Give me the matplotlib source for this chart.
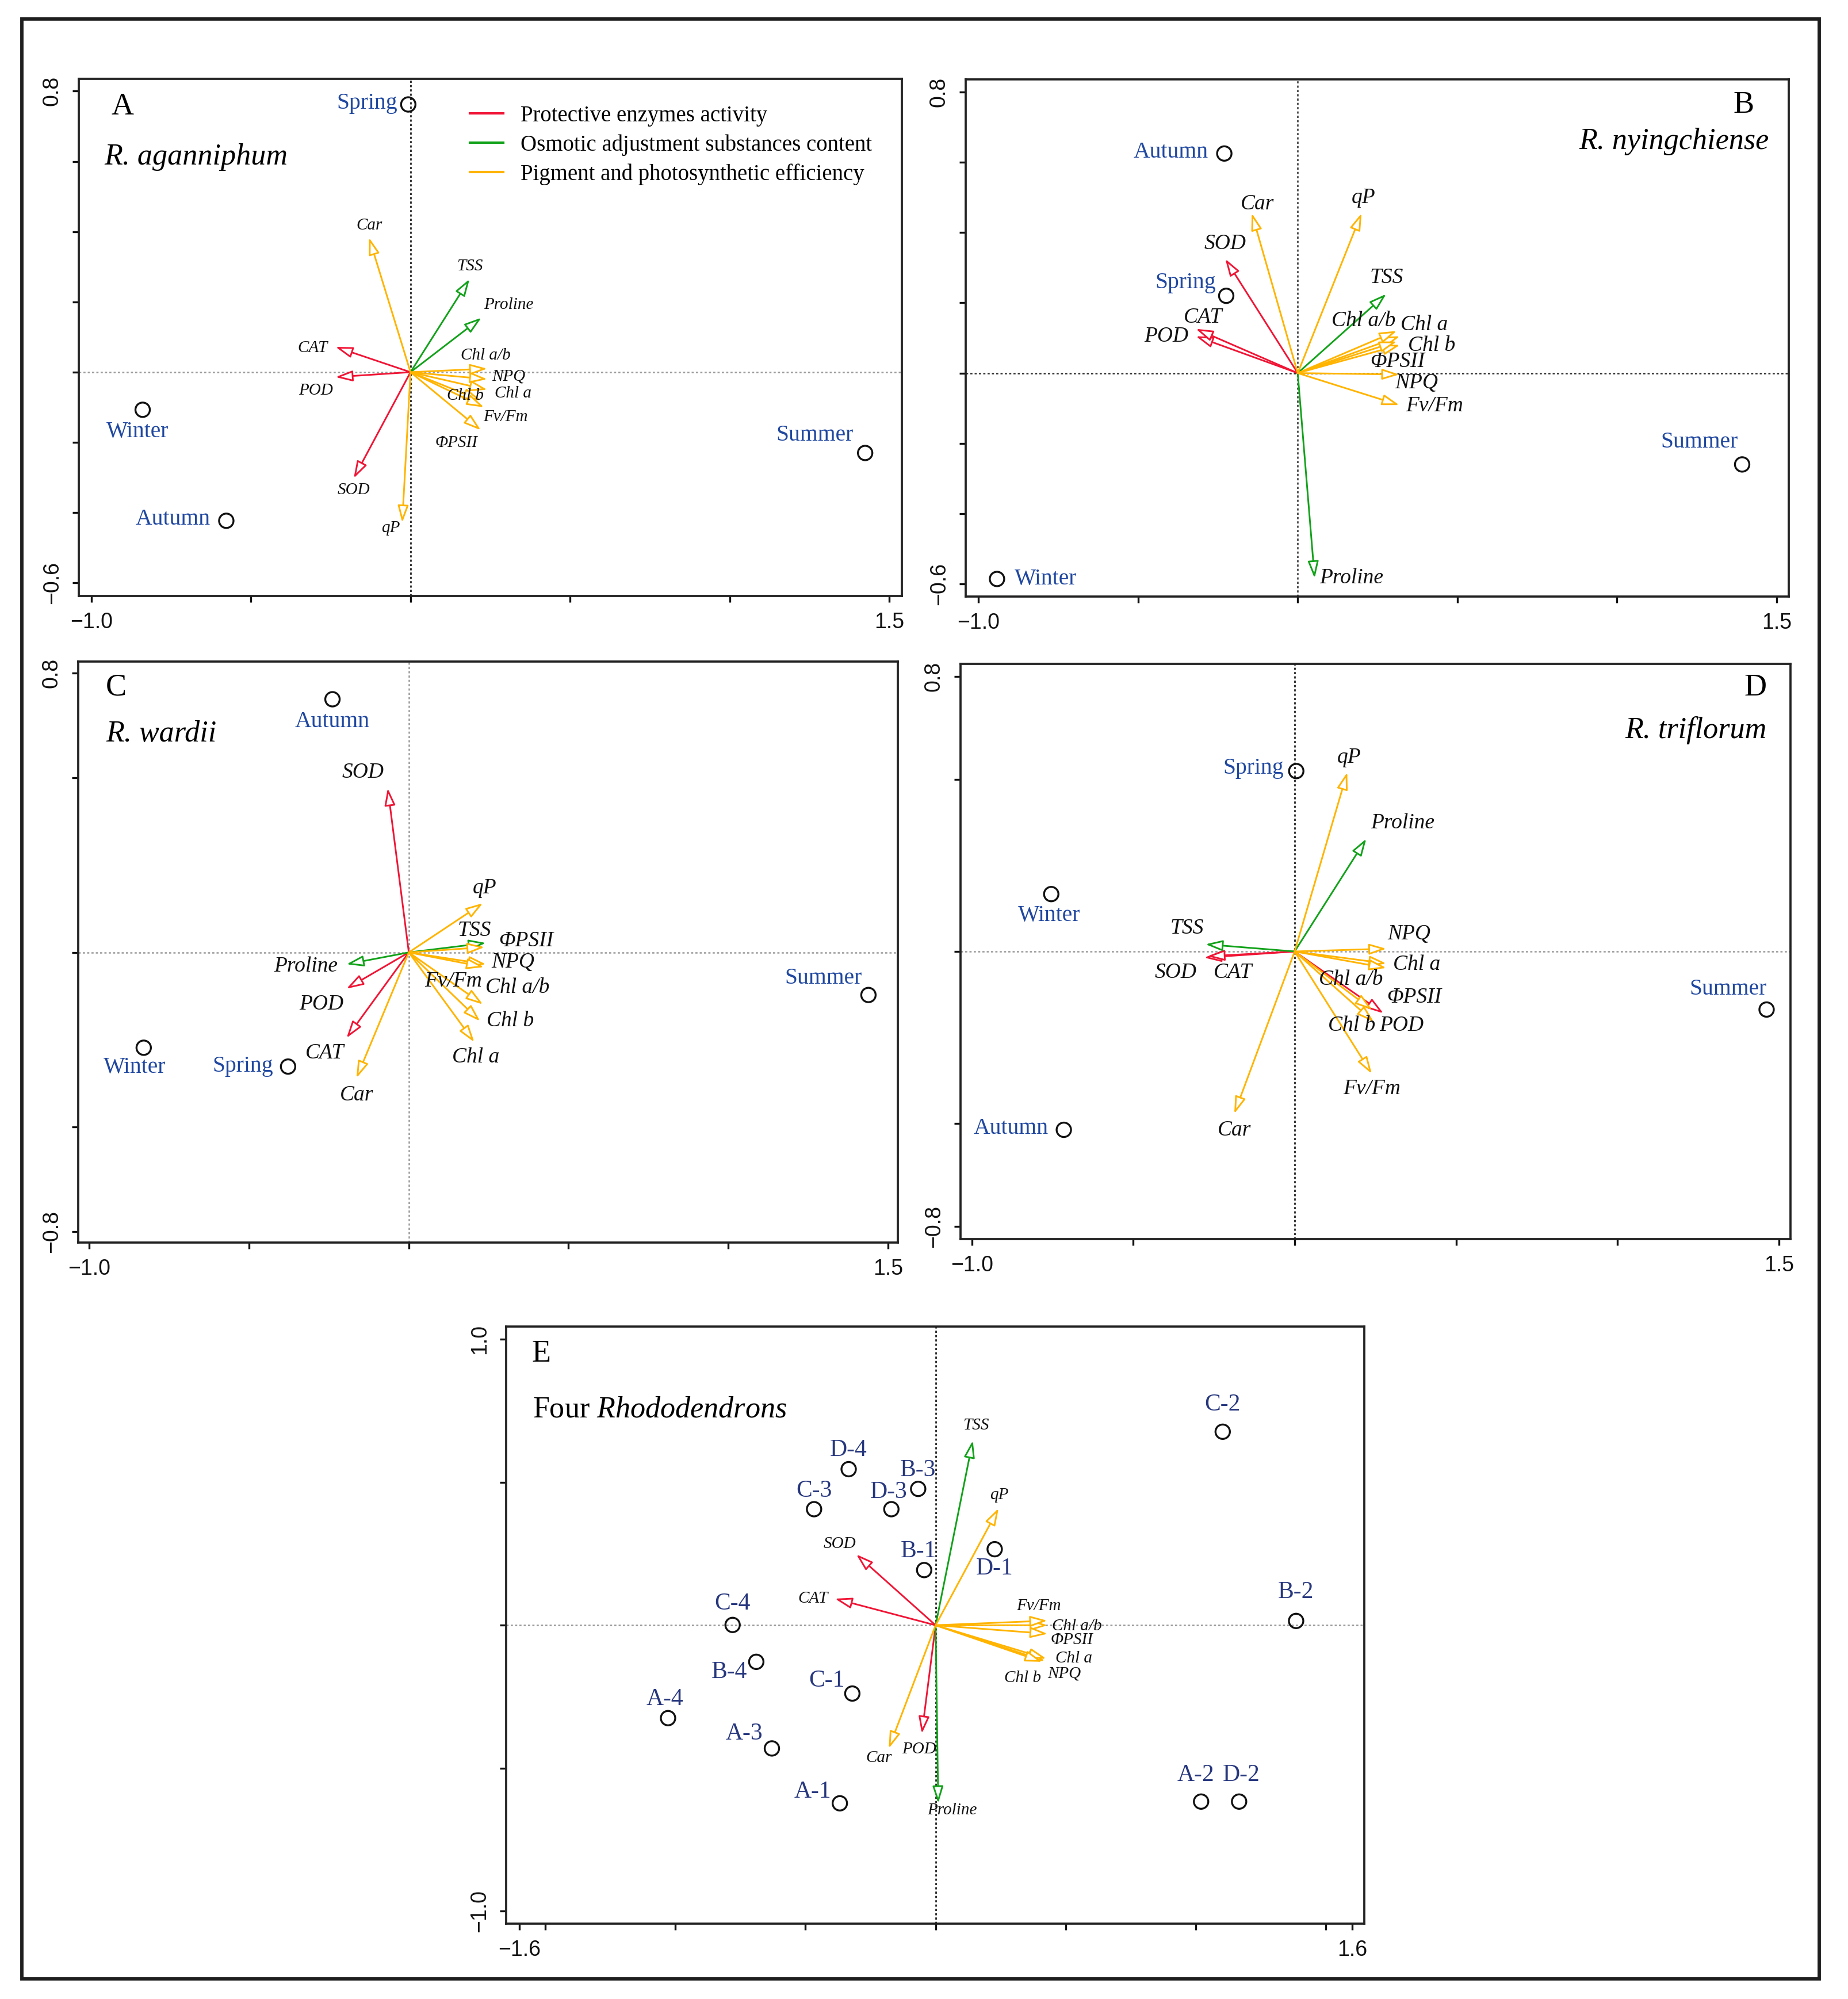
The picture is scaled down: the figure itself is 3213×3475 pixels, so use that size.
import matplotlib
matplotlib.use('Agg')
import matplotlib.pyplot as plt
from matplotlib.patches import FancyArrowPatch, Rectangle
from matplotlib.lines import Line2D

plt.rcParams['font.family'] = ['Liberation Serif', 'DejaVu Serif']
plt.rcParams['mathtext.fontset'] = 'custom'
plt.rcParams['mathtext.rm'] = 'Liberation Serif'
plt.rcParams['mathtext.it'] = 'Liberation Serif:italic'

# ---------------- data ----------------
var_names = ['SOD', 'POD', 'CAT', 'TSS', 'Proline', 'Car', 'qP',
             'Chl a/b', 'NPQ', 'Chl a', 'Chl b', 'Fv/Fm', 'ΦPSII']
var_group = ['enz', 'enz', 'enz', 'osm', 'osm', 'pig', 'pig',
             'pig', 'pig', 'pig', 'pig', 'pig', 'pig']

seasons = ['Spring', 'Summer', 'Autumn', 'Winter']

# A  R. aganniphum
a_site_x = [-0.007, 1.424, -0.577, -0.839]
a_site_y = [0.762, -0.230, -0.423, -0.107]
a_var_x = [-0.178, -0.235, -0.235, 0.185, 0.222, -0.130, -0.026, 0.24, 0.24, 0.24, 0.22, 0.23, 0.22]
a_var_y = [-0.302, -0.014, 0.072, 0.265, 0.155, 0.383, -0.428, 0.01, -0.02, -0.05, -0.08, -0.10, -0.165]

# B  R. nyingchiense
b_site_x = [-0.224, 1.392, -0.230, -0.942]
b_site_y = [0.220, -0.260, 0.625, -0.586]
b_var_x = [-0.227, -0.319, -0.319, 0.277, 0.053, -0.144, 0.200, 0.32, 0.318, 0.31, 0.32, 0.318, 0.31]
b_var_y = [0.325, 0.105, 0.126, 0.225, -0.584, 0.455, 0.455, 0.105, -0.004, 0.12, 0.08, -0.091, 0.09]

# C  R. wardii
c_site_x = [-0.378, 1.439, -0.239, -0.830]
c_site_y = [-0.327, -0.122, 0.725, -0.273]
c_var_x = [-0.066, -0.195, -0.195, 0.241, -0.195, -0.164, 0.232, 0.232, 0.241, 0.205, 0.223, 0.235, 0.237]
c_var_y = [0.470, -0.104, -0.245, 0.027, -0.034, -0.360, 0.141, -0.149, -0.034, -0.257, -0.197, -0.042, 0.015]

# D  R. triflorum
d_site_x = [0.005, 1.462, -0.715, -0.754]
d_site_y = [0.525, -0.169, -0.519, 0.167]
d_var_x = [-0.28, 0.275, -0.27, -0.276, 0.222, -0.187, 0.163, 0.24, 0.284, 0.284, 0.245, 0.239, 0.284]
d_var_y = [-0.018, -0.18, -0.014, 0.021, 0.328, -0.472, 0.521, -0.17, 0.008, -0.035, -0.205, -0.356, -0.048]

# E  four rhododendrons
e_site_names = ['D-4', 'C-3', 'D-3', 'B-3', 'B-1', 'C-4', 'B-4', 'C-1',
                'A-4', 'A-3', 'A-1', 'C-2', 'D-1', 'B-2', 'A-2', 'D-2']
e_site_x = [-0.334, -0.467, -0.170, -0.067, -0.044, -0.780, -0.689, -0.320,
            -1.028, -0.629, -0.368, 1.103, 0.227, 1.385, 1.020, 1.166]
e_site_y = [0.546, 0.406, 0.406, 0.477, 0.193, 0.001, -0.128, -0.239,
            -0.325, -0.431, -0.623, 0.677, 0.266, 0.015, -0.617, -0.617]
e_var_x = [-0.305, -0.053, -0.387, 0.143, 0.010, -0.180, 0.242, 0.43, 0.42, 0.425, 0.41, 0.429, 0.43]
e_var_y = [0.248, -0.379, 0.093, 0.646, -0.623, -0.431, 0.409, 0.0, -0.125, -0.117, -0.128, 0.016, -0.03]

legend_labels = ['Protective enzymes activity',
                 'Osmotic adjustment substances content',
                 'Pigment and photosynthetic efficiency']

# ---------------- style / label placement ----------------
colors = {'enz': '#F01535', 'osm': '#12A21A', 'pig': '#FFB400'}
site_col = '#2048A0'
e_site_col = '#27377E'

# label offsets (data units, relative to point / arrow tip)
a_site_off = {'Spring': (-0.129, 0.004), 'Summer': (-0.158, 0.05),
              'Autumn': (-0.168, 0.005), 'Winter': (-0.017, -0.063)}
a_var_off = {'SOD': (0, -0.034), 'POD': (-0.062, -0.038), 'CAT': (-0.071, -0.003),
             'TSS': (0, 0.036), 'Proline': (0.085, 0.036), 'Car': (0, 0.035),
             'qP': (-0.037, -0.015), 'Chl a/b': (-0.004, 0.038), 'NPQ': (0.067, 0.007),
             'Chl a': (0.081, -0.01), 'Chl b': (-0.048, 0.013), 'Fv/Fm': (0.068, -0.027),
             'ΦPSII': (-0.076, -0.036)}

b_site_off = {'Spring': (-0.127, 0.037), 'Summer': (-0.134, 0.063),
              'Autumn': (-0.167, 0.004), 'Winter': (0.152, 0.0)}
b_var_off = {'SOD': (0, 0.043), 'POD': (-0.092, 0), 'CAT': (0.023, 0.032),
             'TSS': (0.002, 0.047), 'Proline': (0.115, 0), 'Car': (0.018, 0.026),
             'qP': (0.005, 0.044), 'Chl a/b': (-0.113, 0.044), 'NPQ': (0.054, -0.024),
             'Chl a': (0.086, 0.018), 'Chl b': (0.10, -0.002), 'Fv/Fm': (0.111, -0.003),
             'ΦPSII': (0.002, -0.058)}

c_site_off = {'Spring': (-0.141, 0.001), 'Summer': (-0.141, 0.048),
              'Autumn': (0, -0.064), 'Winter': (-0.028, -0.057)}
c_var_off = {'SOD': (-0.078, 0.046), 'POD': (-0.078, -0.045), 'CAT': (-0.069, -0.043),
             'TSS': (-0.036, 0.036), 'Proline': (-0.128, -0.006), 'Car': (0.001, -0.048),
             'qP': (0.005, 0.043), 'Chl a/b': (0.108, 0.049), 'NPQ': (0.085, 0.006),
             'Chl a': (0.004, -0.043), 'Chl b': (0.094, 0), 'Fv/Fm': (-0.095, -0.04),
             'ΦPSII': (0.13, 0.018)}

d_site_off = {'Spring': (-0.133, 0.009), 'Summer': (-0.119, 0.059),
              'Autumn': (-0.163, 0.004), 'Winter': (-0.006, -0.063)}
d_var_off = {'SOD': (-0.089, -0.043), 'POD': (0.056, -0.036), 'CAT': (0.078, -0.047),
             'TSS': (-0.057, 0.046), 'Proline': (0.113, 0.046), 'Car': (0, -0.049),
             'qP': (0.006, 0.043), 'Chl a/b': (-0.066, 0.088), 'NPQ': (0.071, 0.043),
             'Chl a': (0.095, -0.003), 'Chl b': (-0.068, -0.011), 'Fv/Fm': (0, -0.044),
             'ΦPSII': (0.086, -0.085)}

e_site_off = {'D-4': (0, 0.067), 'C-3': (0, 0.063), 'D-3': (-0.011, 0.059),
              'B-3': (0, 0.066), 'B-1': (-0.022, 0.065), 'C-4': (0, 0.074),
              'B-4': (-0.104, -0.037), 'C-1': (-0.099, 0.044), 'A-4': (-0.013, 0.067),
              'A-3': (-0.107, 0.052), 'A-1': (-0.104, 0.040), 'C-2': (0, 0.095),
              'D-1': (0, -0.067), 'B-2': (0, 0.10), 'A-2': (-0.02, 0.093),
              'D-2': (0.008, 0.093)}
e_var_off = {'SOD': (-0.063, 0.037), 'POD': (-0.01, -0.056), 'CAT': (-0.085, 0),
             'TSS': (0.011, 0.052), 'Proline': (0.053, -0.025), 'Car': (-0.038, -0.034),
             'qP': (0.003, 0.046), 'Chl a/b': (0.113, -0.003), 'NPQ': (0.075, -0.045),
             'Chl a': (0.105, 0), 'Chl b': (-0.076, -0.057), 'Fv/Fm': (-0.032, 0.05),
             'ΦPSII': (0.094, -0.022)}

W, H = 3213, 3475
fig = plt.figure(figsize=(W / 300, H / 300), dpi=300)


def rect(l, r, t, b):
    return [l / W, 1 - b / H, (r - l) / W, (b - t) / H]


def fmt(v):
    return ('%.1f' % v).replace('-', '\u2212')


def setup(ax, xlim, ylim, xt, xlab, yt, ylab, vcol, hcol):
    ax.set_xlim(xlim)
    ax.set_ylim(ylim)
    ax.set_xticks(xt)
    ax.set_xticklabels([fmt(v) if v in xlab else '' for v in xt])
    ax.set_yticks(yt)
    ax.set_yticklabels([fmt(v) if v in ylab else '' for v in yt],
                       rotation=90, va='center')
    ax.tick_params(direction='out', length=2.6, width=0.8, pad=4.2,
                   labelsize=9, colors='#111111')
    for lab in ax.get_xticklabels() + ax.get_yticklabels():
        lab.set_family('Liberation Sans')
    for s in ax.spines.values():
        s.set_linewidth(0.9)
        s.set_color('#222222')
    ax.axvline(0, color=vcol, lw=0.6, ls=(0, (1.5, 1.5)), zorder=1)
    ax.axhline(0, color=hcol, lw=0.6, ls=(0, (1.5, 1.5)), zorder=1)


def biplot(ax, sx, sy, snames, soff, scol, sfs, vx, vy, voff, vfs):
    for i, n in enumerate(var_names):
        arr = FancyArrowPatch((0, 0), (vx[i], vy[i]),
                              arrowstyle='-|>,head_length=6,head_width=1.9',
                              mutation_scale=1, ec=colors[var_group[i]], fc='white',
                              lw=0.7, shrinkA=0, shrinkB=0, zorder=3)
        ax.add_patch(arr)
        dx, dy = voff[n]
        ax.text(vx[i] + dx, vy[i] + dy, n, ha='center', va='center',
                fontsize=vfs, style='italic', color='#111111', zorder=4)
    ax.scatter(sx, sy, s=36, facecolors='none', edgecolors='#111111',
               linewidths=0.8, zorder=4)
    for i, n in enumerate(snames):
        dx, dy = soff[n]
        ax.text(sx[i] + dx, sy[i] + dy, n, ha='center', va='center',
                fontsize=sfs, color=scol, zorder=4)


xt_top = [-1.0, -0.5, 0, 0.5, 1.0, 1.5]
yt_ab = [-0.6, -0.4, -0.2, 0, 0.2, 0.4, 0.6, 0.8]
yt_cd = [-0.8, -0.5, 0, 0.5, 0.8]

# panel A
axA = fig.add_axes(rect(137, 1568, 137, 1036))
setup(axA, (-1.039, 1.539), (-0.637, 0.835), xt_top, [-1.0, 1.5], yt_ab, [0.8, -0.6],
      'black', '#9a9a9a')
biplot(axA, a_site_x, a_site_y, seasons, a_site_off, site_col, 9.5,
       a_var_x, a_var_y, a_var_off, 7)
axA.text(0.053, 0.946, 'A', transform=axA.transAxes, fontsize=13, ha='center', va='center')
axA.text(0.031, 0.849, 'R. aganniphum', transform=axA.transAxes, fontsize=12.5,
         style='italic', ha='left', va='center')
handles = [Line2D([], [], color=colors[g], lw=1.0) for g in ['enz', 'osm', 'pig']]
axA.legend(handles, legend_labels, loc='upper left', bbox_to_anchor=(0.470, 0.958),
           frameon=False, fontsize=9.3, handlelength=1.5, handletextpad=0.75,
           labelspacing=0.35, borderaxespad=0, borderpad=0.2)

# panel B
axB = fig.add_axes(rect(1679, 3110, 138, 1037))
setup(axB, (-1.040, 1.538), (-0.636, 0.836), xt_top, [-1.0, 1.5], yt_ab, [0.8, -0.6],
      '#333333', '#333333')
biplot(axB, b_site_x, b_site_y, seasons, b_site_off, site_col, 9.5,
       b_var_x, b_var_y, b_var_off, 9)
axB.text(0.945, 0.950, 'B', transform=axB.transAxes, fontsize=13, ha='center', va='center')
axB.text(0.976, 0.880, 'R. nyingchiense', transform=axB.transAxes, fontsize=12.5,
         style='italic', ha='right', va='center')

# panel C
axC = fig.add_axes(rect(136, 1561, 1150, 2160))
setup(axC, (-1.035, 1.531), (-0.831, 0.833), xt_top, [-1.0, 1.5], yt_cd, [0.8, -0.8],
      '#9a9a9a', '#9a9a9a')
biplot(axC, c_site_x, c_site_y, seasons, c_site_off, site_col, 9.5,
       c_var_x, c_var_y, c_var_off, 9)
axC.text(0.046, 0.955, 'C', transform=axC.transAxes, fontsize=13, ha='center', va='center')
axC.text(0.034, 0.875, 'R. wardii', transform=axC.transAxes, fontsize=12.5,
         style='italic', ha='left', va='center')

# panel D
axD = fig.add_axes(rect(1670, 3113, 1154, 2154))
setup(axD, (-1.035, 1.536), (-0.837, 0.837), xt_top, [-1.0, 1.5], yt_cd, [0.8, -0.8],
      'black', '#9a9a9a')
biplot(axD, d_site_x, d_site_y, seasons, d_site_off, site_col, 9.5,
       d_var_x, d_var_y, d_var_off, 9)
axD.text(0.958, 0.958, 'D', transform=axD.transAxes, fontsize=13, ha='center', va='center')
axD.text(0.971, 0.885, 'R. triflorum', transform=axD.transAxes, fontsize=12.5,
         style='italic', ha='right', va='center')

# panel E
axE = fig.add_axes(rect(880, 2372, 2306, 3344))
setup(axE, (-1.650, 1.647), (-1.044, 1.045),
      [-1.6, -1.5, -1.0, -0.5, 0, 0.5, 1.0, 1.5, 1.6], [-1.6, 1.6],
      [-1.0, -0.5, 0, 0.5, 1.0], [1.0, -1.0], 'black', '#9a9a9a')
biplot(axE, e_site_x, e_site_y, e_site_names, e_site_off, e_site_col, 10,
       e_var_x, e_var_y, e_var_off, 7)
axE.text(0.041, 0.954, 'E', transform=axE.transAxes, fontsize=13, ha='center', va='center')
axE.text(0.031, 0.861, r'Four $\mathit{Rhododendrons}$', transform=axE.transAxes,
         fontsize=12.5, ha='left', va='center')

# outer frame
fig.add_artist(Rectangle((38 / W, 1 - 3440 / H), (3163 - 38) / W, (3440 - 33) / H,
                         transform=fig.transFigure, fill=False, lw=1.4, ec='#1e1e1e'))

fig.savefig('out.png', dpi=300)
